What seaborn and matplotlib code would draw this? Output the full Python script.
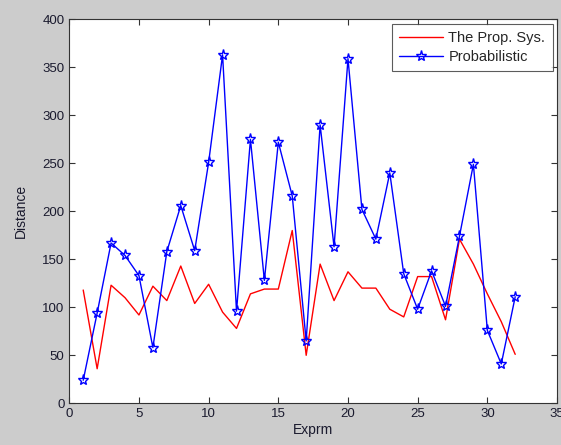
import seaborn as sns
import matplotlib.pyplot as plt
import pandas as pd
import numpy as np

exprm = list(range(1, 33))

prop_sys = [118, 36, 123, 110, 92, 122, 107, 143, 104, 124, 95, 78, 114, 119, 119, 180,
            50, 145, 107, 137, 120, 120, 98, 90, 132, 132, 87, 171, 145, 114, 85, 51]

probabilistic = [24, 94, 167, 154, 133, 58, 158, 206, 159, 251, 363, 96, 275, 128, 272, 216,
                 65, 290, 163, 359, 202, 171, 240, 135, 98, 138, 101, 174, 249, 76, 41, 111]

df = pd.DataFrame({'Exprm': exprm, 'The Prop. Sys.': prop_sys, 'Probabilistic': probabilistic})

sns.set_style("ticks")
plt.rcParams['font.family'] = ['Liberation Sans', 'DejaVu Sans']

fig = plt.figure(figsize=(5.61, 4.45), dpi=100, facecolor='#cccccc')
ax = fig.add_axes([0.1235, 0.0937, 0.8694, 0.8629])
ax.set_facecolor('white')

sns.lineplot(data=df, x='Exprm', y='The Prop. Sys.', color='red', linewidth=1,
             label='The Prop. Sys.', ax=ax)
sns.lineplot(data=df, x='Exprm', y='Probabilistic', color='blue', linewidth=1,
             marker='*', markersize=8, markerfacecolor='none', markeredgecolor='blue',
             markeredgewidth=1, label='Probabilistic', ax=ax)

ax.set_xlim(0, 35)
ax.set_ylim(0, 400)
ax.set_xticks(np.arange(0, 36, 5))
ax.set_yticks(np.arange(0, 401, 50))

text_col = '#1a1a2e'
ax.tick_params(direction='in', length=4, width=0.8, top=True, right=True,
               labelsize=9.5, colors='#333333', labelcolor=text_col)
for sp in ax.spines.values():
    sp.set_visible(True)
    sp.set_color('#333333')
    sp.set_linewidth(0.8)

ax.set_xlabel('Exprm', fontsize=10, color=text_col, labelpad=2)
ax.set_ylabel('Distance', fontsize=10, color=text_col, labelpad=10)

leg = ax.legend(loc='upper right', fontsize=10.5, frameon=True, fancybox=False,
                edgecolor='#333333', borderaxespad=0.3, handlelength=3,
                handletextpad=0.4, borderpad=0.5, labelspacing=0.35)
leg.get_frame().set_linewidth(0.8)

plt.savefig("out.png", dpi=100, facecolor=fig.get_facecolor())
plt.close()
